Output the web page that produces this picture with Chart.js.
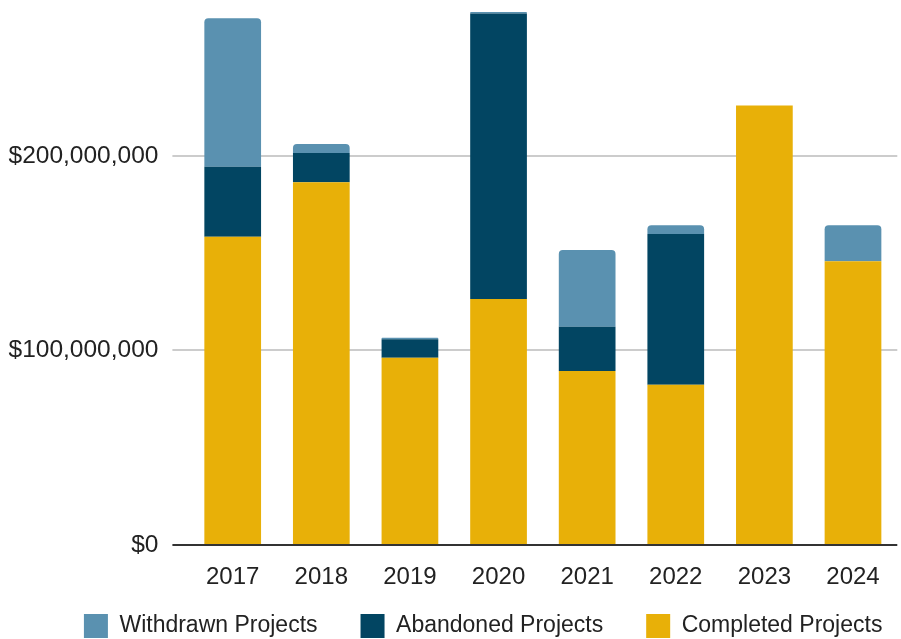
<!DOCTYPE html>
<html>
<head>
<meta charset="utf-8">
<script src="https://cdn.jsdelivr.net/npm/chart.js@4"></script>
<style>
  html, body { margin: 0; padding: 0; background: #ffffff; }
  #wrap { width: 901px; height: 639px; position: relative; }
</style>
</head>
<body>
<div id="wrap"><canvas id="projectsChart"></canvas></div>
<script>
// Project dollars by year, split by outcome.
const years = ['2017', '2018', '2019', '2020', '2021', '2022', '2023', '2024'];

const completed = [158500000, 186500000, 96300000, 126500000, 89500000, 82400000, 225900000, 145900000];
const abandoned = [36000000, 15000000, 9500000, 146800000, 22700000, 77500000, 0, 0];
const withdrawn = [76300000, 4700000, 800000, 700000, 39500000, 4500000, 0, 18500000];

const yTicks = [0, 100000000, 200000000];

const textColor = '#222222';
const fontFamily = "'Liberation Sans', Arial, sans-serif";

// The legend is centred under the bars rather than the whole canvas,
// and tucked up closer to the year labels (bottom edge stays put so
// the legend's clip box still reaches the canvas bottom).
const legendOffset = { x: 34.5, y: -20 };
const legendShift = {
  id: 'legendShift',
  afterLayout(chart) {
    const lg = chart.legend;
    lg.left += legendOffset.x;
    lg.right += legendOffset.x;
    lg.top += legendOffset.y;
  }
};

const ctx = document.getElementById('projectsChart').getContext('2d');

new Chart(ctx, {
  type: 'bar',
  data: {
    labels: years,
    datasets: [
      // stacked bottom-up: completed, abandoned, withdrawn
      {
        label: 'Completed Projects',
        data: completed,
        backgroundColor: '#e8b008',
        borderWidth: 0
      },
      {
        label: 'Abandoned Projects',
        data: abandoned,
        backgroundColor: '#024562',
        borderWidth: 0
      },
      {
        label: 'Withdrawn Projects',
        data: withdrawn,
        backgroundColor: '#5a91b0',
        borderWidth: 0,
        borderRadius: { topLeft: 4, topRight: 4, bottomLeft: 0, bottomRight: 0 }
      }
    ]
  },
  plugins: [legendShift],
  options: {
    responsive: true,
    maintainAspectRatio: false,
    animation: false,
    datasets: {
      bar: { categoryPercentage: 1, barPercentage: 0.64 }
    },
    layout: {
      padding: { top: 0, left: 0, right: 3.7, bottom: 0 }
    },
    plugins: {
      tooltip: { enabled: false },
      legend: {
        position: 'bottom',
        reverse: true,          // legend reads top of stack first
        maxHeight: 48,
        labels: {
          boxWidth: 24,
          boxHeight: 24,
          padding: 43,
          color: textColor,
          font: { family: fontFamily, size: 23 }
        }
      }
    },
    scales: {
      x: {
        stacked: true,
        grid: { display: false },
        border: { display: false },
        ticks: {
          color: textColor,
          padding: 10,
          font: { family: fontFamily, size: 24 }
        },
        afterFit: function(scale) {
          scale.height = 46;
          scale.paddingLeft = 0;
          scale.paddingRight = 0;
        }
      },
      y: {
        stacked: true,
        min: 0,
        max: 280200000,
        border: { display: false },
        grid: {
          drawTicks: true,
          tickLength: 16,
          color: c => (c.tick && c.tick.value === 0 ? '#333333' : '#cccccc'),
          lineWidth: 2
        },
        ticks: {
          stepSize: 100000000,
          padding: 14,
          color: textColor,
          font: { family: fontFamily, size: 24.5 },
          callback: v => '$' + Number(v).toLocaleString('en-US')
        },
        // keep only the labelled steps, not the cut-off top value
        afterBuildTicks: function(scale) {
          scale.ticks = yTicks.map(v => ({ value: v }));
        },
        afterFit: function(scale) {
          scale.width = 188.4;
          scale.paddingTop = 0;
          scale.paddingBottom = 0;
        }
      }
    }
  }
});
</script>
</body>
</html>
